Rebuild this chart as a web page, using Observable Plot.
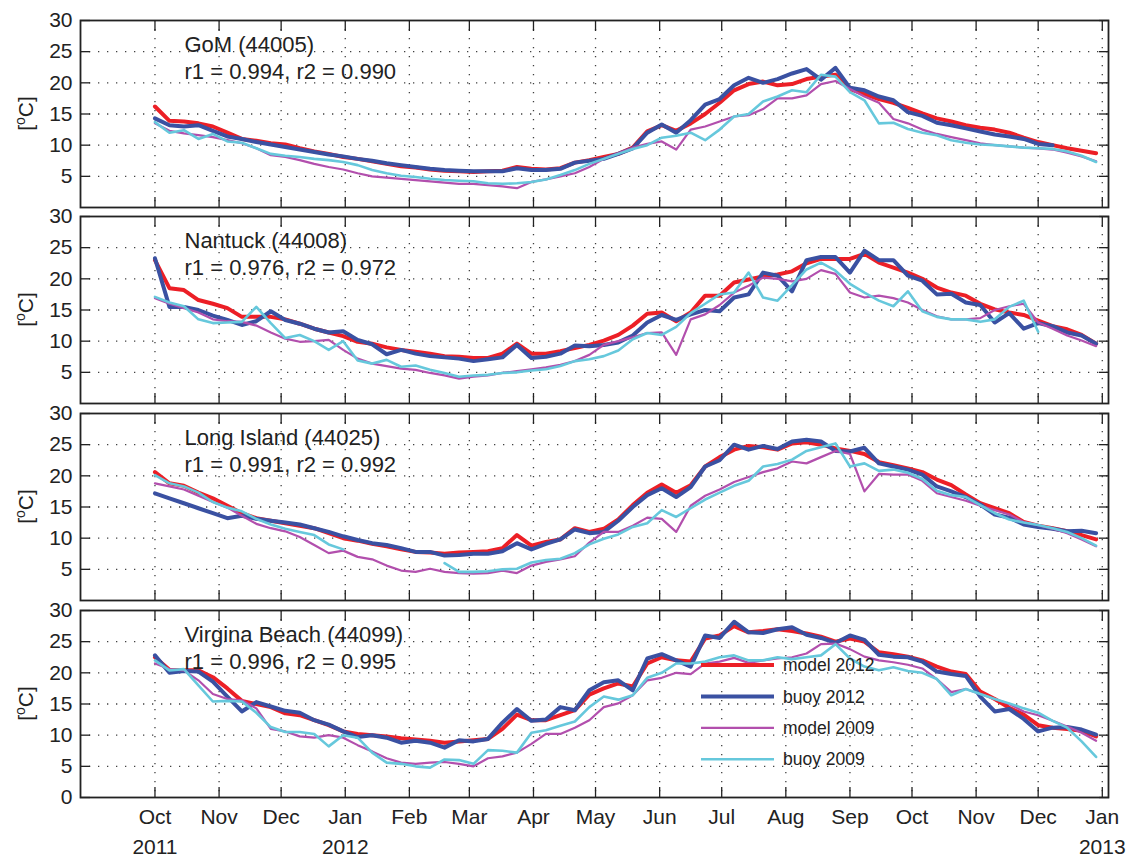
<!DOCTYPE html>
<html><head><meta charset="utf-8">
<script src="https://cdn.jsdelivr.net/npm/d3@7"></script>
<script src="https://cdn.jsdelivr.net/npm/@observablehq/plot@0.6"></script>
<style>
body{margin:0;background:#fff;overflow:hidden;}
#chart{position:relative;width:1129px;height:857px;font-family:"Liberation Sans",Arial,Helvetica,sans-serif;}
</style></head><body><div id="chart"></div>
<script>
// ---- data ----
const dates = ["2011-10-01","2011-10-08","2011-10-15","2011-10-22","2011-10-29","2011-11-05","2011-11-12","2011-11-19","2011-11-26","2011-12-03","2011-12-10","2011-12-17","2011-12-24","2011-12-31",
"2012-01-07","2012-01-14","2012-01-21","2012-01-28","2012-02-04","2012-02-11","2012-02-18","2012-02-25","2012-03-03","2012-03-10","2012-03-17","2012-03-24","2012-03-31","2012-04-07","2012-04-14","2012-04-21","2012-04-28","2012-05-05","2012-05-12","2012-05-19","2012-05-26","2012-06-02","2012-06-09","2012-06-16","2012-06-23","2012-06-30","2012-07-07","2012-07-14","2012-07-21","2012-07-28","2012-08-04","2012-08-11","2012-08-18","2012-08-25","2012-09-01","2012-09-08","2012-09-15","2012-09-22","2012-09-29","2012-10-06","2012-10-13","2012-10-20","2012-10-27","2012-11-03","2012-11-10","2012-11-17","2012-11-24","2012-12-01","2012-12-08","2012-12-15","2012-12-22","2012-12-29"];

const stations = ["GoM (44005)","Nantuck (44008)","Long Island (44025)","Virgina Beach (44099)"];
const correlations = ["r1 = 0.994, r2 = 0.990","r1 = 0.976, r2 = 0.972","r1 = 0.991, r2 = 0.992","r1 = 0.996, r2 = 0.995"];
const seriesNames = ["model 2012","buoy 2012","model 2009","buoy 2009"];

const gomModel2012 = [16.2,13.9,13.8,13.5,13.0,12.0,11.0,10.7,10.3,10.1,9.5,9.0,8.6,8.1,7.8,7.4,7.0,6.6,6.4,6.1,5.9,5.8,5.7,5.8,5.9,6.5,6.2,6.1,6.3,7.2,7.6,8.1,8.6,9.6,12.2,13.2,12.3,13.5,15.0,16.8,18.8,19.8,20.2,19.6,19.8,20.6,21.0,21.3,19.0,18.2,17.4,16.8,16.0,15.1,14.3,13.8,13.2,12.8,12.5,12.0,11.2,10.5,10.0,9.5,9.1,8.7];
const gomBuoy2012 = [14.3,13.2,13.0,13.2,12.3,11.4,11.0,10.5,10.1,9.7,9.3,8.9,8.5,8.2,7.8,7.5,7.1,6.8,6.5,6.2,6.0,5.9,5.8,5.8,5.8,6.3,6.0,6.0,6.2,7.2,7.5,7.8,8.6,9.5,12.0,13.3,12.0,14.0,16.5,17.4,19.6,20.8,20.0,20.6,21.5,22.2,20.5,22.4,19.2,18.8,17.8,17.2,15.3,14.7,13.6,13.2,12.7,12.2,11.7,11.4,11.0,10.2,10.0,null,null,null];
const gomModel2009 = [13.5,12.3,11.9,11.6,11.3,10.8,10.3,9.5,8.4,8.1,7.6,7.0,6.5,6.1,5.5,5.0,4.8,4.6,4.4,4.2,4.0,3.8,3.8,3.6,3.4,3.1,4.1,4.5,5.0,5.5,6.5,7.8,8.7,9.6,10.2,10.6,9.3,12.5,13.0,13.8,14.6,14.8,15.8,17.5,17.5,18.0,19.8,20.3,19.0,17.8,16.8,14.2,13.5,12.5,11.8,11.3,10.8,10.3,10.0,9.8,9.6,9.5,9.3,8.8,8.2,7.4];
const gomBuoy2009 = [13.7,12.0,12.4,11.0,11.8,10.6,10.4,9.5,8.6,8.3,8.1,7.8,7.6,7.3,6.8,6.0,5.5,5.1,4.9,4.6,4.4,4.3,4.2,3.9,3.8,3.9,4.1,4.5,5.2,6.0,7.0,7.8,8.6,9.4,10.0,11.2,11.5,12.0,10.8,12.5,14.6,15.0,17.0,17.8,18.8,18.5,21.3,21.0,18.5,17.2,13.5,13.6,12.6,12.0,11.6,10.8,10.4,10.1,10.0,9.8,9.6,9.5,9.4,9.0,8.3,7.3];

const nanModel2012 = [23.0,18.5,18.2,16.6,16.0,15.3,13.9,13.9,13.9,13.5,12.8,12.0,11.4,10.8,9.9,9.6,9.0,8.6,8.3,8.0,7.6,7.5,7.3,7.3,8.0,9.6,8.0,8.0,8.4,8.9,9.4,10.1,11.0,12.5,14.4,14.6,13.2,14.6,17.3,17.3,19.4,19.9,20.4,20.7,21.2,22.5,23.2,23.2,23.2,24.0,22.6,21.8,21.0,20.0,18.6,17.8,17.3,16.0,15.1,14.6,14.2,13.3,12.4,11.9,11.0,9.6];
const nanBuoy2012 = [23.3,15.5,15.5,15.0,14.1,13.4,12.6,13.2,14.8,13.4,12.8,12.0,11.4,11.6,10.2,9.5,7.9,8.6,8.0,7.6,7.4,7.2,6.8,7.1,7.4,9.4,7.3,7.5,8.0,9.3,9.2,9.4,9.8,10.9,13.0,14.2,13.4,14.3,15.0,14.8,17.0,17.5,21.0,20.5,18.0,23.0,23.5,23.5,21.0,24.5,23.0,23.0,20.5,19.7,17.5,17.6,16.2,15.8,13.0,14.5,12.0,12.9,12.4,11.4,10.9,9.6];
const nanModel2009 = [16.9,16.0,15.3,14.6,13.5,13.2,13.1,12.5,11.4,10.4,9.9,10.0,10.2,8.6,7.2,6.4,6.0,5.6,5.4,4.9,4.5,4.0,4.3,4.5,4.9,5.2,5.5,5.8,6.2,6.8,7.8,9.4,10.0,10.6,11.3,11.4,7.8,13.5,14.3,15.8,17.8,18.9,20.2,20.0,19.6,20.0,21.4,20.8,17.8,17.0,17.3,16.9,16.2,15.0,14.0,13.5,13.5,13.7,15.0,15.6,16.0,13.0,12.0,10.9,10.1,9.2];
const nanBuoy2009 = [17.1,16.2,15.6,13.5,12.9,13.0,13.1,15.5,12.9,10.5,11.0,10.0,8.6,10.0,6.9,6.4,7.0,5.9,6.1,5.4,4.9,4.3,4.5,4.6,4.9,5.0,5.3,5.5,6.0,6.8,7.1,7.6,8.5,10.3,11.3,11.0,12.3,14.5,16.0,17.5,17.8,21.0,17.0,16.5,19.0,21.5,22.6,21.3,19.2,17.8,16.5,15.6,18.0,14.8,13.9,13.5,13.5,13.1,13.5,15.5,16.5,11.5,null,null,null,null];

const liModel2012 = [20.6,18.8,18.4,17.3,16.4,15.2,14.0,13.2,12.8,12.4,12.0,11.6,10.8,10.0,9.6,9.1,8.7,8.2,7.8,7.7,7.5,7.7,7.8,7.9,8.4,10.5,8.8,9.4,9.8,11.6,11.0,11.5,13.0,15.3,17.3,18.6,17.3,18.5,21.5,23.0,24.2,24.8,24.6,24.2,25.2,25.4,25.0,24.4,24.0,23.5,22.2,21.7,21.2,20.6,19.4,18.5,17.0,15.6,14.8,14.0,12.6,12.0,11.6,11.1,10.5,9.8];
const liBuoy2012 = [17.2,16.4,15.6,14.8,14.0,13.2,13.6,13.1,12.8,12.5,12.2,11.6,11.0,10.3,9.7,9.2,8.9,8.4,7.8,7.8,7.2,7.3,7.5,7.5,7.9,9.2,8.2,9.1,9.8,11.4,10.8,11.0,12.8,15.0,16.9,18.0,16.6,18.2,21.5,22.5,25.0,24.2,24.8,24.3,25.5,25.8,25.5,24.0,23.9,24.5,22.0,21.5,21.0,20.2,18.3,17.5,16.6,15.4,13.8,13.3,12.2,11.8,11.5,11.1,11.2,10.8];
const liModel2009 = [18.8,18.3,17.8,16.8,15.8,14.9,13.6,12.3,11.6,11.1,10.2,8.9,7.6,8.0,7.0,6.6,5.6,4.8,4.6,5.1,4.6,4.4,4.3,4.4,4.8,4.4,5.6,6.2,6.6,7.1,9.3,11.0,11.0,12.0,13.3,13.1,11.0,15.2,16.8,17.8,19.0,19.8,20.6,21.2,22.3,22.0,23.0,24.0,23.5,17.5,20.3,20.2,20.2,19.2,17.2,16.6,16.0,15.2,14.5,13.8,12.6,12.1,11.5,10.8,9.8,8.7];
const liBuoy2009 = [20.1,18.8,18.3,17.3,15.8,14.9,14.3,13.1,12.2,11.5,11.0,10.5,9.0,8.2,null,null,null,null,null,null,6.0,4.6,4.6,4.7,5.0,5.1,6.1,6.5,6.7,7.6,9.0,9.9,10.6,11.8,12.4,14.5,13.4,14.8,16.2,17.3,18.4,19.2,21.5,21.9,22.6,24.0,24.6,25.2,21.5,22.0,20.8,21.0,20.5,19.5,17.6,16.9,16.6,15.3,14.0,13.0,12.5,12.1,11.6,11.0,10.0,8.8];

const vbModel2012 = [22.5,20.5,20.4,20.4,19.3,17.5,15.5,15.0,14.5,13.5,13.2,12.4,11.6,10.6,10.2,10.0,9.8,9.5,9.3,9.1,8.8,9.0,9.2,9.4,11.0,13.3,12.4,12.4,13.2,14.0,16.5,17.5,18.3,17.8,21.5,22.5,22.0,21.8,25.5,26.0,27.5,26.5,26.7,27.0,26.7,26.3,25.8,25.0,25.5,25.0,23.3,23.0,22.6,22.0,21.0,20.2,19.8,17.0,15.8,14.4,13.3,11.6,11.2,11.0,10.7,9.8];
const vbBuoy2012 = [22.8,20.0,20.3,20.2,18.6,16.2,13.8,15.3,14.6,13.9,13.6,12.4,11.7,10.6,9.7,10.0,9.6,8.8,9.1,8.8,8.0,9.2,9.0,9.4,12.0,14.2,12.3,12.5,14.5,14.0,17.2,18.5,18.8,17.2,22.3,23.0,22.0,21.0,26.0,25.6,28.2,26.5,26.4,27.0,27.3,26.1,25.6,24.8,26.0,25.3,22.9,22.6,22.5,21.8,20.2,19.8,19.5,16.2,13.8,14.2,12.6,10.6,11.2,11.3,10.9,10.1];
const vbModel2009 = [21.5,20.6,20.4,18.8,16.6,15.8,15.6,14.3,11.0,10.6,9.8,9.6,10.0,9.6,8.4,7.4,6.3,5.6,5.4,5.6,5.7,5.4,5.0,6.3,6.6,7.2,8.6,10.2,10.2,11.2,12.4,14.5,15.1,16.4,18.8,19.2,20.0,19.8,21.5,21.8,22.4,21.6,22.0,22.3,22.5,23.1,24.6,24.7,23.8,22.6,22.0,21.7,21.3,20.7,19.0,16.9,17.4,16.6,15.8,15.0,13.8,13.2,12.3,11.4,10.4,9.1];
const vbBuoy2009 = [22.0,20.4,20.6,18.0,15.4,15.5,15.4,13.6,11.3,10.5,10.5,10.2,8.2,10.0,9.6,7.2,5.6,5.4,5.0,4.8,6.1,6.0,5.4,7.6,7.5,7.2,10.4,10.8,11.5,12.2,14.5,16.2,15.7,16.4,19.2,20.0,21.5,21.5,21.8,22.5,22.8,22.0,22.0,22.5,22.2,22.5,22.8,24.6,22.3,21.0,20.4,20.9,20.3,20.0,19.0,16.4,17.4,16.6,15.8,15.1,14.3,13.6,12.3,11.2,9.0,6.5];

const monthTicks = ["2011-10-01","2011-11-01","2011-12-01","2012-01-01","2012-02-01","2012-03-01","2012-04-01","2012-05-01","2012-06-01","2012-07-01","2012-08-01","2012-09-01","2012-10-01","2012-11-01","2012-12-01","2013-01-01"];
const monthLabels = ["Oct","Nov","Dec","Jan","Feb","Mar","Apr","May","Jun","Jul","Aug","Sep","Oct","Nov","Dec","Jan"];
const yearTicks = ["2011-10-01","2012-01-01","2013-01-01"];
const yearLabels = ["2011","2012","2013"];
const yTicksTop = [5,10,15,20,25,30];
const yTicksBottom = [0,5,10,15,20,25,30];

// ---- build ----
const panels = [
  [gomModel2012, gomBuoy2012, gomModel2009, gomBuoy2009],
  [nanModel2012, nanBuoy2012, nanModel2009, nanBuoy2009],
  [liModel2012, liBuoy2012, liModel2009, liBuoy2009],
  [vbModel2012, vbBuoy2012, vbModel2009, vbBuoy2009]
];
const colors = ["#ec1f26","#3a51a2","#b24fad","#66c8dc"];
const widths = [4, 4, 2.2, 2.6];

const parse = d3.utcParse("%Y-%m-%d");
const dateObjs = dates.map(parse);
const monthDates = monthTicks.map(parse);
const monthLabelOf = new Map(monthTicks.map((d, i) => [+parse(d), monthLabels[i]]));
const xDomain = [parse("2011-08-26"), parse("2013-01-04")];
const panelTops = [20, 216, 413, 610];
const frameH = 187;
const font = '"Liberation Sans", Arial, Helvetica, sans-serif';
const ink = "#222";

const chart = document.getElementById("chart");

panels.forEach((series, p) => {
  const isBottom = p === 3;
  const mB = isBottom ? 60 : 4;
  const rows = [];
  series.forEach((arr, s) => arr.forEach((v, i) => rows.push({date: dateObjs[i], value: v, s})));
  const lineMarks = series.map((arr, s) =>
    Plot.line(rows.filter(r => r.s === s), {x: "date", y: "value", stroke: colors[s], strokeWidth: widths[s], strokeLinejoin: "round", strokeLinecap: "round"})
  );
  const yt = isBottom ? yTicksBottom : yTicksTop;
  const marks = [
    Plot.gridX(monthDates, {stroke: "#111", strokeOpacity: 0.8, strokeWidth: 1.3, strokeDasharray: "1.3,7.7"}),
    Plot.gridY([5,10,15,20,25], {stroke: "#111", strokeOpacity: 0.8, strokeWidth: 1.3, strokeDasharray: "1.3,7.7"}),
    ...lineMarks,
    Plot.axisX(monthDates, {anchor: "bottom", tickSize: 10, dy: -10, tickFormat: () => "", label: null, stroke: ink, strokeWidth: 1.3}),
    Plot.axisX(monthDates, {anchor: "top", tickSize: 10, dy: 10, tickFormat: () => "", label: null, stroke: ink, strokeWidth: 1.3}),
    Plot.axisY(yt, {anchor: "left", tickSize: 10, dx: 10, tickFormat: () => "", label: null, stroke: ink, strokeWidth: 1.3}),
    Plot.axisY(yt, {anchor: "right", tickSize: 10, dx: -10, tickFormat: () => "", label: null, stroke: ink, strokeWidth: 1.3}),
    Plot.axisY(yt, {anchor: "left", tickSize: 0, tickPadding: 8, tickFormat: d => String(d), label: null, fill: ink}),
    Plot.frame({stroke: ink, strokeWidth: 1.8}),
    Plot.text([stations[p] + "\n" + correlations[p]], {frameAnchor: "top-left", dx: 104, dy: 12, lineAnchor: "top", textAnchor: "start", lineHeight: 1.24, fontSize: 22, fill: ink})
  ];
  if (isBottom) {
    marks.push(Plot.axisX(monthDates, {anchor: "bottom", tickSize: 0, tickPadding: 12, tickFormat: d => monthLabelOf.get(+d), label: null, fill: ink}));
    marks.push(Plot.text(yearTicks, {x: d => parse(d), text: (d, i) => yearLabels[i], frameAnchor: "bottom", lineAnchor: "top", dy: 42, fontSize: 21, fill: ink}));
  }
  const svg = Plot.plot({
    width: 1129, height: 20 + frameH + mB,
    marginTop: 20, marginLeft: 80, marginRight: 21, marginBottom: mB,
    style: {background: "transparent", fontFamily: font, fontSize: "21px", color: ink, overflow: "visible"},
    x: {type: "utc", domain: xDomain},
    y: {domain: [0, 30]},
    marks
  });
  svg.style.position = "absolute";
  svg.style.left = "0px";
  svg.style.top = (panelTops[p] - 20) + "px";
  // y-axis label [°C] with superscript o
  const g = d3.select(svg);
  const t = g.append("text")
    .attr("transform", `translate(33,${20 + frameH / 2}) rotate(-90)`)
    .attr("text-anchor", "middle").attr("font-size", 21).attr("font-family", font).attr("fill", ink);
  t.append("tspan").text("[");
  t.append("tspan").attr("font-size", 14).attr("dy", -8).text("o");
  t.append("tspan").attr("dy", 8).text("C]");
  if (isBottom) {
    const lg = g.append("g").attr("font-family", font).attr("font-size", 17.5).attr("fill", ink).attr("text-anchor", "start");
    seriesNames.forEach((name, s) => {
      const ly = 75 + 31.4 * s;
      lg.append("line").attr("x1", 701).attr("x2", 774).attr("y1", ly).attr("y2", ly)
        .attr("stroke", colors[s]).attr("stroke-width", widths[s]);
      lg.append("text").attr("x", 783).attr("y", ly).attr("dy", "0.35em").attr("text-anchor", "start").text(name);
    });
  }
  chart.appendChild(svg);
});
</script>
</body></html>
